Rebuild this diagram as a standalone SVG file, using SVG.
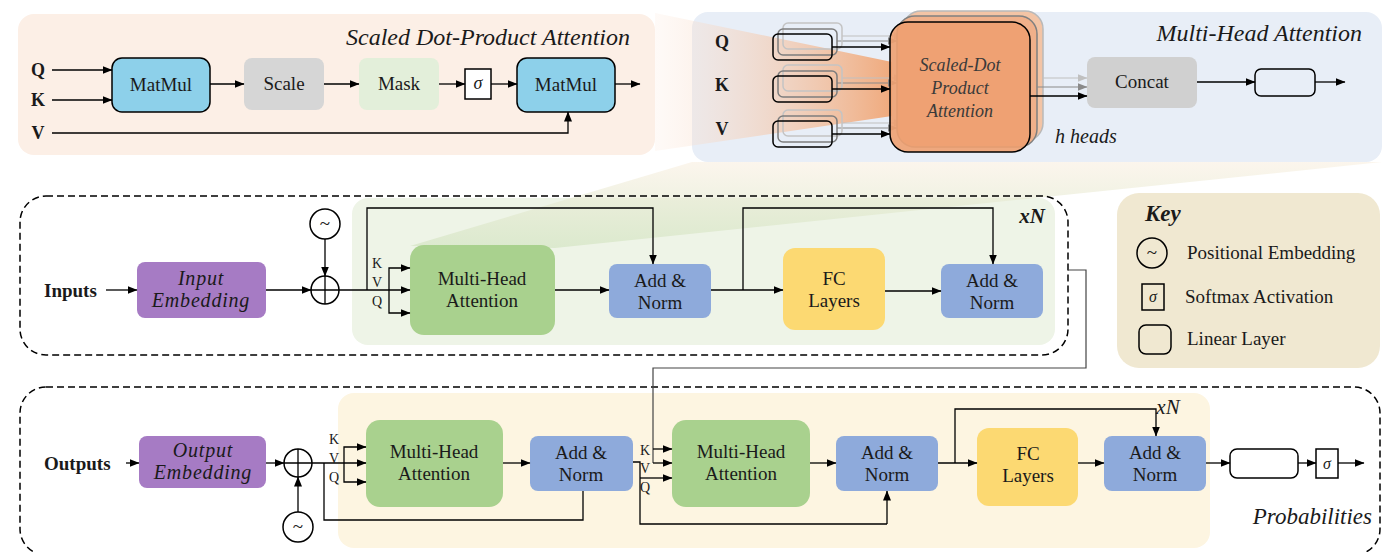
<svg xmlns="http://www.w3.org/2000/svg" width="1391" height="552" viewBox="0 0 1391 552">
<defs>
  <marker id="ah" markerWidth="10" markerHeight="8" refX="9.5" refY="4" orient="auto" markerUnits="userSpaceOnUse"><path d="M0,0 L10,4 L0,8 z" fill="#000"/></marker>
  <marker id="ahg" markerWidth="10" markerHeight="8" refX="9.5" refY="4" orient="auto" markerUnits="userSpaceOnUse"><path d="M0,0 L10,4 L0,8 z" fill="#8a8a8a"/></marker>
  <marker id="ahl" markerWidth="10" markerHeight="8" refX="9.5" refY="4" orient="auto" markerUnits="userSpaceOnUse"><path d="M0,0 L10,4 L0,8 z" fill="#c0c0c0"/></marker>
  <linearGradient id="fan1" gradientUnits="userSpaceOnUse" x1="655" y1="0" x2="892" y2="0">
    <stop offset="0" stop-color="#fbe6d8" stop-opacity="0.2"/>
    <stop offset="1" stop-color="#f0a676" stop-opacity="0.95"/>
  </linearGradient>
  <linearGradient id="fan2" gradientUnits="userSpaceOnUse" x1="0" y1="162" x2="0" y2="248">
    <stop offset="0" stop-color="#f9efe0" stop-opacity="0.6"/>
    <stop offset="1" stop-color="#cfe2bd" stop-opacity="0.6"/>
  </linearGradient>
</defs>
<style>
  .t{font-family:"Liberation Serif","DejaVu Serif",serif;font-size:19px;fill:#1a1a1a;text-anchor:middle}
  .s{text-anchor:start}
  .e{text-anchor:end}
  .i{font-style:italic}
  .b{font-weight:bold}
  .emb{font-size:20px;letter-spacing:0.8px}
  .sm{font-size:14px}
  .f16{font-size:16px}
  .f18{font-size:18px}
  .f20{font-size:20px}
  .f21{font-size:21px}
  .f23{font-size:23px}
  .f24{font-size:24px}
  .ln{fill:none;stroke:#000;stroke-width:1.3}
  .ar{marker-end:url(#ah)}
  .box{stroke:none}
  .lin{fill:none;stroke:#000;stroke-width:1.5}
  .mm{fill:#8dd0ea;stroke:#000;stroke-width:1.5}
  .pur{fill:#a67bc4}
  .grn{fill:#a9d18e}
  .blu{fill:#8eaadb}
  .yel{fill:#fcd972}
</style>
<rect width="1391" height="552" fill="#fff"/>

<g id="panel-sdpa-bg"><rect x="18" y="14" width="637" height="141" rx="16" fill="#fcefe6"/></g>
<g id="panel-mha-bg"><rect x="692" y="12" width="690" height="150" rx="16" fill="#e8eef7"/></g>
<g id="encoder-bg"><rect x="352" y="198" width="703" height="147" rx="16" fill="#eef4e7"/></g>
<g id="decoder-bg"><rect x="338" y="393" width="872" height="155" rx="16" fill="#fdf5e1"/></g>
<g id="fans">
  <polygon points="655,13 892,62 892,116 655,151" fill="url(#fan1)"/>
  <polygon points="692,162 1382,162 555,248 410,246" fill="url(#fan2)"/>
</g>
<g id="encoder-frame"><rect x="20" y="196" width="1048" height="159" rx="26" fill="none" stroke="#000" stroke-width="1.5" stroke-dasharray="7 4"/></g>
<g id="decoder-frame"><rect x="20" y="387" width="1360" height="168" rx="26" fill="none" stroke="#000" stroke-width="1.5" stroke-dasharray="7 4"/></g>

<g id="sdpa-title"><text class="t i e f24" x="630" y="45">Scaled Dot-Product Attention</text></g>
<g id="sdpa-q"><text class="t b f18" x="38" y="76">Q</text></g>
<g id="sdpa-k"><text class="t b f18" x="38" y="106">K</text></g>
<g id="sdpa-v"><text class="t b f18" x="38" y="139">V</text></g>
<g id="matmul1"><rect class="mm" x="112" y="58" width="98" height="54" rx="10"/><text class="t" x="161" y="91">MatMul</text></g>
<g id="scale"><rect class="box" x="244" y="58" width="80" height="52" rx="8" fill="#d6d6d6"/><text class="t" x="284" y="90">Scale</text></g>
<g id="mask"><rect class="box" x="359" y="58" width="80" height="52" rx="8" fill="#e3efda"/><text class="t" x="399" y="90">Mask</text></g>
<g id="sigma1"><rect x="465" y="69" width="26" height="30" fill="#fff" stroke="#000" stroke-width="1.5"/><text class="t i f18" x="478" y="89">σ</text></g>
<g id="matmul2"><rect class="mm" x="517" y="58" width="98" height="54" rx="10"/><text class="t" x="566" y="91">MatMul</text></g>

<g id="mha-title"><text class="t i e f24" x="1362" y="41">Multi-Head Attention</text></g>
<g id="mha-q"><text class="t b f18" x="722" y="48">Q</text></g>
<g id="mha-k"><text class="t b f18" x="722" y="91">K</text></g>
<g id="mha-v"><text class="t b f18" x="722" y="135">V</text></g>

<g id="connectors-heads">
  <path class="ln" style="stroke:#c0c0c0;stroke-width:1.1" d="M842,36 H903" marker-end="url(#ahl)"/>
  <path class="ln" style="stroke:#8a8a8a;stroke-width:1.1" d="M837,41 H897" marker-end="url(#ahg)"/>
  <path class="ln" style="stroke:#c0c0c0;stroke-width:1.1" d="M842,78 H903" marker-end="url(#ahl)"/>
  <path class="ln" style="stroke:#8a8a8a;stroke-width:1.1" d="M837,83 H897" marker-end="url(#ahg)"/>
  <path class="ln" style="stroke:#c0c0c0;stroke-width:1.1" d="M842,123 H903" marker-end="url(#ahl)"/>
  <path class="ln" style="stroke:#8a8a8a;stroke-width:1.1" d="M837,128 H897" marker-end="url(#ahg)"/>
</g>

<g id="linear-q">
  <rect x="783" y="23" width="59" height="26" rx="5" fill="none" stroke="#c4c4c4" stroke-width="1.5"/>
  <rect x="778" y="29" width="59" height="26" rx="5" fill="none" stroke="#7d7d7d" stroke-width="1.5"/>
  <rect class="lin" x="773" y="34" width="59" height="26" rx="5"/>
</g>
<g id="linear-k">
  <rect x="783" y="65" width="59" height="26" rx="5" fill="none" stroke="#c4c4c4" stroke-width="1.5"/>
  <rect x="778" y="71" width="59" height="26" rx="5" fill="none" stroke="#7d7d7d" stroke-width="1.5"/>
  <rect class="lin" x="773" y="76" width="59" height="26" rx="5"/>
</g>
<g id="linear-v">
  <rect x="783" y="110" width="59" height="26" rx="5" fill="none" stroke="#c4c4c4" stroke-width="1.5"/>
  <rect x="778" y="116" width="59" height="26" rx="5" fill="none" stroke="#7d7d7d" stroke-width="1.5"/>
  <rect class="lin" x="773" y="121" width="59" height="26" rx="5"/>
</g>

<g id="sdpa-stack">
  <rect x="903" y="11" width="140" height="130" rx="18" fill="#f3c4a5" stroke="#b9b9b9" stroke-width="1.5"/>
  <rect x="897" y="16" width="140" height="131" rx="18" fill="#f0b08a" stroke="#808080" stroke-width="1.5"/>
  <rect x="890" y="22" width="140" height="130" rx="18" fill="#eea070" fill-opacity="0.9" stroke="#000" stroke-width="1.5"/>
  <text class="t i f18" x="960" y="71" style="fill:#3a3a3a">Scaled-Dot</text>
  <text class="t i f18" x="960" y="94" style="fill:#3a3a3a">Product</text>
  <text class="t i f18" x="960" y="117" style="fill:#3a3a3a">Attention</text>
</g>
<g id="h-heads"><text class="t i s f20" x="1055" y="143">h heads</text></g>
<g id="concat"><rect class="box" x="1087" y="57" width="110" height="51" rx="8" fill="#d0d0d0"/><text class="t" x="1142" y="88">Concat</text></g>
<g id="mha-linear-out"><rect class="lin" x="1255" y="69" width="60" height="27" rx="6"/></g>

<g id="enc-xn"><text class="t i b f21" x="1032" y="223">xN</text></g>
<g id="inputs"><text class="t b s" x="44" y="297">Inputs</text></g>
<g id="input-embedding"><rect class="box pur" x="137" y="262" width="129" height="56" rx="8"/><text class="t i emb" x="201" y="285">Input</text><text class="t i emb" x="201" y="307">Embedding</text></g>
<g id="enc-plus"><circle cx="325" cy="290" r="14" fill="none" stroke="#000" stroke-width="1.5"/><path class="ln" d="M311,290 H339 M325,276 V304"/></g>
<g id="enc-pos"><circle cx="325" cy="224" r="15" fill="#fff" stroke="#000" stroke-width="1.5"/><text class="t" x="325" y="230">~</text></g>
<g id="enc-kvq"><text class="t sm" x="377" y="268">K</text><text class="t sm" x="377" y="287">V</text><text class="t sm" x="377" y="306">Q</text></g>
<g id="enc-mha"><rect class="box grn" x="410" y="245" width="145" height="90" rx="14"/><text class="t" x="482" y="285">Multi-Head</text><text class="t" x="482" y="307">Attention</text></g>
<g id="enc-addnorm1"><rect class="box blu" x="609" y="264" width="102" height="54" rx="8"/><text class="t" x="660" y="287">Add &amp;</text><text class="t" x="660" y="309">Norm</text></g>
<g id="enc-fc"><rect class="box yel" x="783" y="248" width="102" height="82" rx="12"/><text class="t" x="834" y="285">FC</text><text class="t" x="834" y="307">Layers</text></g>
<g id="enc-addnorm2"><rect class="box blu" x="941" y="264" width="102" height="54" rx="8"/><text class="t" x="992" y="287">Add &amp;</text><text class="t" x="992" y="309">Norm</text></g>

<g id="key">
  <rect x="1117" y="193" width="263" height="175" rx="22" fill="#f0e8d1"/>
  <text class="t i b s f23" x="1145" y="221">Key</text>
  <circle cx="1152" cy="253" r="15" fill="none" stroke="#000" stroke-width="1.5"/><text class="t" x="1152" y="259">~</text>
  <text class="t s" x="1187" y="259">Positional Embedding</text>
  <rect x="1142" y="284" width="22" height="26" fill="none" stroke="#000" stroke-width="1.5"/><text class="t i f16" x="1153" y="302">σ</text>
  <text class="t s" x="1185" y="303">Softmax Activation</text>
  <rect class="lin" x="1139" y="325" width="32" height="29" rx="7"/>
  <text class="t s" x="1187" y="345">Linear Layer</text>
</g>

<g id="dec-xn"><text class="t i f21" x="1168" y="414">xN</text></g>
<g id="outputs"><text class="t b s" x="44" y="470">Outputs</text></g>
<g id="output-embedding"><rect class="box pur" x="139" y="436" width="127" height="52" rx="8"/><text class="t i emb" x="203" y="457">Output</text><text class="t i emb" x="203" y="479">Embedding</text></g>
<g id="dec-plus"><circle cx="298" cy="463" r="14" fill="none" stroke="#000" stroke-width="1.5"/><path class="ln" d="M284,463 H312 M298,449 V477"/></g>
<g id="dec-pos"><circle cx="298" cy="527" r="15" fill="#fff" stroke="#000" stroke-width="1.5"/><text class="t" x="298" y="533">~</text></g>
<g id="dec-kvq1"><text class="t sm" x="334" y="444">K</text><text class="t sm" x="334" y="463">V</text><text class="t sm" x="334" y="482">Q</text></g>
<g id="dec-mha1"><rect class="box grn" x="366" y="420" width="137" height="87" rx="14"/><text class="t" x="434" y="458">Multi-Head</text><text class="t" x="434" y="480">Attention</text></g>
<g id="dec-addnorm1"><rect class="box blu" x="530" y="436" width="103" height="55" rx="8"/><text class="t" x="581" y="459">Add &amp;</text><text class="t" x="581" y="481">Norm</text></g>
<g id="dec-kvq2"><text class="t sm" x="645" y="455">K</text><text class="t sm" x="645" y="473">V</text><text class="t sm" x="645" y="492">Q</text></g>
<g id="dec-mha2"><rect class="box grn" x="672" y="420" width="138" height="87" rx="14"/><text class="t" x="741" y="458">Multi-Head</text><text class="t" x="741" y="480">Attention</text></g>
<g id="dec-addnorm2"><rect class="box blu" x="836" y="436" width="102" height="55" rx="8"/><text class="t" x="887" y="459">Add &amp;</text><text class="t" x="887" y="481">Norm</text></g>
<g id="dec-fc"><rect class="box yel" x="977" y="428" width="101" height="78" rx="12"/><text class="t" x="1028" y="460">FC</text><text class="t" x="1028" y="482">Layers</text></g>
<g id="dec-addnorm3"><rect class="box blu" x="1104" y="436" width="102" height="55" rx="8"/><text class="t" x="1155" y="459">Add &amp;</text><text class="t" x="1155" y="481">Norm</text></g>
<g id="dec-linear"><rect class="lin" x="1230" y="449" width="68" height="29" rx="7"/></g>
<g id="dec-sigma"><rect x="1316" y="449" width="22" height="29" fill="#fff" stroke="#000" stroke-width="1.5"/><text class="t i f16" x="1327" y="469">σ</text></g>
<g id="probabilities"><text class="t i e f23" x="1372" y="524">Probabilities</text></g>

<g id="connectors">
  <path class="ln ar" d="M52,70 H112"/>
  <path class="ln ar" d="M52,100 H112"/>
  <path class="ln ar" d="M210,84 H244"/>
  <path class="ln ar" d="M324,84 H359"/>
  <path class="ln ar" d="M439,84 H465"/>
  <path class="ln ar" d="M491,84 H517"/>
  <path class="ln ar" d="M615,84 H640"/>
  <path class="ln ar" d="M52,133 H568 V112"/>
  <path class="ln ar" d="M832,47 H890"/>
  <path class="ln ar" d="M832,89 H890"/>
  <path class="ln ar" d="M832,134 H890"/>
  <path class="ln" style="stroke:#c0c0c0;stroke-width:1.1" d="M1043,78 H1087" marker-end="url(#ahl)"/>
  <path class="ln" style="stroke:#8a8a8a;stroke-width:1.1" d="M1037,87 H1087" marker-end="url(#ahg)"/>
  <path class="ln ar" d="M1030,96 H1087"/>
  <path class="ln ar" d="M1197,82 H1255"/>
  <path class="ln ar" d="M1315,82 H1345"/>
  <path class="ln ar" d="M106,290 H137"/>
  <path class="ln ar" d="M266,290 H311"/>
  <path class="ln ar" d="M325,239 V276"/>
  <path class="ln ar" d="M339,290 H410"/>
  <path class="ln ar" d="M367,290 V208 H653 V264"/>
  <path class="ln ar" d="M389,290 V268 H410"/>
  <path class="ln ar" d="M389,290 V313 H410"/>
  <path class="ln ar" d="M555,290 H609"/>
  <path class="ln ar" d="M711,290 H783"/>
  <path class="ln ar" d="M743,290 V208 H993 V264"/>
  <path class="ln ar" d="M885,291 H941"/>
  <path class="ln" style="stroke:#444;stroke-width:1.2" d="M1068,270 H1086 V368 H653 V463"/>
  <path class="ln ar" d="M653,449 H672"/>
  <path class="ln ar" d="M653,463 H672"/>
  <path class="ln ar" d="M126,463 H139"/>
  <path class="ln ar" d="M266,463 H284"/>
  <path class="ln ar" d="M298,512 V477"/>
  <path class="ln ar" d="M312,463 H366"/>
  <path class="ln" d="M324,463 V520 H583 V491"/>
  <path class="ln ar" d="M344,463 V447 H366"/>
  <path class="ln ar" d="M344,463 V482 H366"/>
  <path class="ln ar" d="M503,463 H530"/>
  <path class="ln" d="M633,462 H640 V524 H887"/>
  <path class="ln ar" d="M887,524 V491"/>
  <path class="ln ar" d="M640,478 H672"/>
  <path class="ln ar" d="M810,463 H836"/>
  <path class="ln ar" d="M938,463 H977"/>
  <path class="ln ar" d="M955,463 V409 H1156 V436"/>
  <path class="ln ar" d="M1078,463 H1104"/>
  <path class="ln ar" d="M1206,463 H1230"/>
  <path class="ln ar" d="M1298,463 H1316"/>
  <path class="ln ar" d="M1338,463 H1364"/>
</g>
</svg>
